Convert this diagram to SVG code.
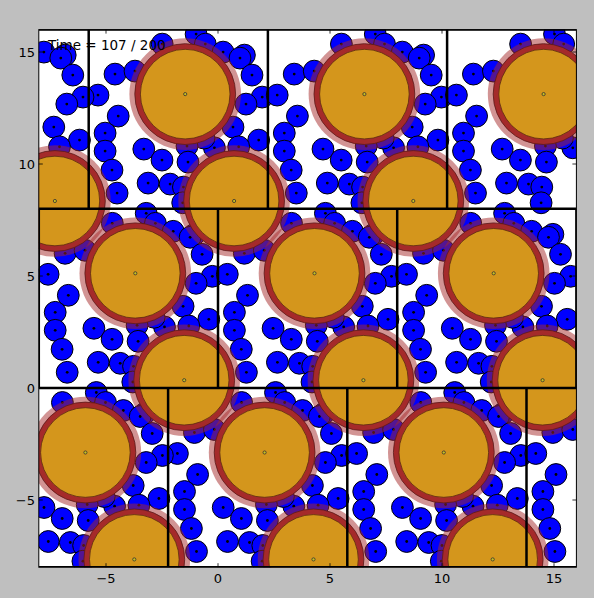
<svg xmlns="http://www.w3.org/2000/svg" xmlns:xlink="http://www.w3.org/1999/xlink" width="594" height="598" viewBox="0 0 594 598">
<style>
.b{fill:#0000ff;stroke:#000;stroke-width:1}
.d{fill:#000}
.h{fill:#a52a2a;fill-opacity:0.5}
.r{fill:#a52a2a;stroke:#5a1a1a;stroke-width:0.8}
.g{fill:#d4961c;stroke:#5a2a10;stroke-width:0.8}
.c{fill:#c8c020;stroke:#333;stroke-width:0.8}
.box{stroke:#000;stroke-width:2.5;fill:none}
.tk{stroke:#000;stroke-width:0.8}
.lb{font-family:"DejaVu Sans",sans-serif;font-size:13px;fill:#000}
</style>
<defs>
<clipPath id="ax"><rect x="38.8" y="29.6" width="537.6" height="537.6"/></clipPath>
<g id="c1">
<circle class="b" cx="9.3" cy="-113.7" r="10.9"/><circle class="d" cx="9.3" cy="-113.7" r="1.4"/>
<circle class="b" cx="26.3" cy="-134.7" r="10.9"/><circle class="d" cx="26.3" cy="-134.7" r="1.4"/>
<circle class="b" cx="46.3" cy="-137.7" r="10.9"/><circle class="d" cx="46.3" cy="-137.7" r="1.4"/>
<circle class="b" cx="29.5" cy="-92.7" r="10.9"/><circle class="d" cx="29.5" cy="-92.7" r="1.4"/>
<circle class="b" cx="16.4" cy="-75.7" r="10.9"/><circle class="d" cx="16.4" cy="-75.7" r="1.4"/>
<circle class="b" cx="16.4" cy="-57.7" r="10.9"/><circle class="d" cx="16.4" cy="-57.7" r="1.4"/>
<circle class="b" cx="23.3" cy="-38.7" r="10.9"/><circle class="d" cx="23.3" cy="-38.7" r="1.4"/>
<circle class="b" cx="28.4" cy="-15.7" r="10.9"/><circle class="d" cx="28.4" cy="-15.7" r="1.4"/>
</g>
<g id="c2">
<circle class="b" cx="73.5" cy="-164.7" r="10.9"/><circle class="d" cx="73.5" cy="-164.7" r="1.4"/>
<circle class="b" cx="55.1" cy="-59.7" r="10.9"/><circle class="d" cx="55.1" cy="-59.7" r="1.4"/>
<circle class="b" cx="73.3" cy="-48.7" r="10.9"/><circle class="d" cx="73.3" cy="-48.7" r="1.4"/>
<circle class="b" cx="59.4" cy="-25.7" r="10.9"/><circle class="d" cx="59.4" cy="-25.7" r="1.4"/>
<circle class="b" cx="81.4" cy="-24.7" r="10.9"/><circle class="d" cx="81.4" cy="-24.7" r="1.4"/>
<circle class="b" cx="107.4" cy="-174.7" r="10.9"/><circle class="d" cx="107.4" cy="-174.7" r="1.4"/>
<circle class="b" cx="116.6" cy="-164.7" r="10.9"/><circle class="d" cx="116.6" cy="-164.7" r="1.4"/>
<circle class="b" cx="125.7" cy="-61" r="10.9"/><circle class="d" cx="125.7" cy="-61" r="1.4"/>
<circle class="b" cx="115.3" cy="-70.7" r="10.9"/><circle class="d" cx="115.3" cy="-70.7" r="1.4"/>
<circle class="b" cx="98.3" cy="-62.7" r="10.9"/><circle class="d" cx="98.3" cy="-62.7" r="1.4"/>
<circle class="b" cx="99.3" cy="-46.7" r="10.9"/><circle class="d" cx="99.3" cy="-46.7" r="1.4"/>
<circle class="b" cx="94.7" cy="-21.7" r="10.9"/><circle class="d" cx="94.7" cy="-21.7" r="1.4"/>
<circle class="b" cx="94" cy="-6" r="10.9"/><circle class="d" cx="94" cy="-6" r="1.4"/>
</g>
<g id="c3">
<circle class="b" cx="134.4" cy="-156.7" r="10.9"/><circle class="d" cx="134.4" cy="-156.7" r="1.4"/>
<circle class="b" cx="155.7" cy="-153.7" r="10.9"/><circle class="d" cx="155.7" cy="-153.7" r="1.4"/>
<circle class="b" cx="151.3" cy="-150.7" r="10.9"/><circle class="d" cx="151.3" cy="-150.7" r="1.4"/>
<circle class="b" cx="163.3" cy="-133.7" r="10.9"/><circle class="d" cx="163.3" cy="-133.7" r="1.4"/>
<circle class="b" cx="173.5" cy="-111.7" r="10.9"/><circle class="d" cx="173.5" cy="-111.7" r="1.4"/>
<circle class="b" cx="157.3" cy="-104.7" r="10.9"/><circle class="d" cx="157.3" cy="-104.7" r="1.4"/>
<circle class="b" cx="144.3" cy="-81.7" r="10.9"/><circle class="d" cx="144.3" cy="-81.7" r="1.4"/>
<circle class="b" cx="170" cy="-68.7" r="10.9"/><circle class="d" cx="170" cy="-68.7" r="1.4"/>
<circle class="b" cx="150" cy="-62" r="10.9"/><circle class="d" cx="150" cy="-62" r="1.4"/>
</g>
<g id="bigA">
<circle class="h" cx="96.5" cy="-114.7" r="55.8"/>
<circle class="r" cx="96.5" cy="-114.7" r="50.4"/>
<circle class="g" cx="96.5" cy="-114.7" r="44.8"/>
<circle class="c" cx="96.5" cy="-114.7" r="1.6"/>
</g>
<g id="bigB">
<circle class="h" cx="145.4" cy="-7.8" r="55.8"/>
<circle class="r" cx="145.4" cy="-7.8" r="50.4"/>
<circle class="g" cx="145.4" cy="-7.8" r="44.8"/>
<circle class="c" cx="145.4" cy="-7.8" r="1.6"/>
</g>
</defs>
<rect width="594" height="598" fill="#bfbfbf"/>
<rect x="38.8" y="29.6" width="537.6" height="537.6" fill="#fff"/>
<g clip-path="url(#ax)">
<g id="small-particles">
<use xlink:href="#c1" x="88.7" y="208.8"/><use xlink:href="#c2" x="88.7" y="208.8"/><use xlink:href="#c3" x="88.7" y="208.8"/>
<use xlink:href="#c1" x="267.9" y="208.8"/><use xlink:href="#c2" x="267.9" y="208.8"/><use xlink:href="#c3" x="267.9" y="208.8"/>
<use xlink:href="#c1" x="447.1" y="208.8"/><use xlink:href="#c2" x="447.1" y="208.8"/>
<use xlink:href="#c3" x="-90.5" y="208.8"/>
<use xlink:href="#c1" x="38.8" y="388"/><use xlink:href="#c2" x="38.8" y="388"/><use xlink:href="#c3" x="38.8" y="388"/>
<use xlink:href="#c1" x="218" y="388"/><use xlink:href="#c2" x="218" y="388"/><use xlink:href="#c3" x="218" y="388"/>
<use xlink:href="#c1" x="397.2" y="388"/><use xlink:href="#c2" x="397.2" y="388"/><use xlink:href="#c3" x="397.2" y="388"/>
<use xlink:href="#c1" x="168.1" y="567.2"/><use xlink:href="#c2" x="168.1" y="567.2"/><use xlink:href="#c3" x="168.1" y="567.2"/>
<use xlink:href="#c1" x="347.3" y="567.2"/><use xlink:href="#c2" x="347.3" y="567.2"/><use xlink:href="#c3" x="347.3" y="567.2"/>
<use xlink:href="#c2" x="-11.1" y="567.2"/><use xlink:href="#c3" x="-11.1" y="567.2"/>
<use xlink:href="#c1" x="526.5" y="567.2"/>
</g>
<g id="large-particles">
<use xlink:href="#bigA" x="88.7" y="208.8"/><use xlink:href="#bigB" x="88.7" y="208.8"/>
<use xlink:href="#bigA" x="267.9" y="208.8"/><use xlink:href="#bigB" x="267.9" y="208.8"/>
<use xlink:href="#bigA" x="447.1" y="208.8"/><use xlink:href="#bigB" x="-90.5" y="208.8"/>
<use xlink:href="#bigA" x="38.8" y="388"/><use xlink:href="#bigB" x="38.8" y="388"/>
<use xlink:href="#bigA" x="218" y="388"/><use xlink:href="#bigB" x="218" y="388"/>
<use xlink:href="#bigA" x="397.2" y="388"/><use xlink:href="#bigB" x="397.2" y="388"/>
<use xlink:href="#bigA" x="168.1" y="567.2"/><use xlink:href="#bigB" x="168.1" y="567.2"/>
<use xlink:href="#bigA" x="347.3" y="567.2"/><use xlink:href="#bigB" x="347.3" y="567.2"/>
<use xlink:href="#bigA" x="-11.1" y="567.2"/><use xlink:href="#bigB" x="-11.1" y="567.2"/>
</g>
<g id="boxes">
<path class="box" d="M38.8 29.6H576.4M38.8 208.8H576.4M38.8 388H576.4M38.8 567.2H576.4"/>
<path class="box" d="M88.7 29.6V208.8M267.9 29.6V208.8M447.1 29.6V208.8"/>
<path class="box" d="M38.8 208.8V388M218 208.8V388M397.2 208.8V388M576.4 208.8V388"/>
<path class="box" d="M168.1 388V567.2M347.3 388V567.2M526.5 388V567.2"/>
</g>
</g>
<rect x="38.8" y="29.6" width="537.6" height="537.6" fill="none" stroke="#000" stroke-width="1"/>
<g id="ticks">
<path class="tk" d="M106 567.2v-4M218 567.2v-4M330 567.2v-4M442 567.2v-4M554 567.2v-4M106 29.6v4M218 29.6v4M330 29.6v4M442 29.6v4M554 29.6v4"/>
<path class="tk" d="M38.8 500h4M38.8 388h4M38.8 276h4M38.8 164h4M38.8 52h4M576.4 500h-4M576.4 388h-4M576.4 276h-4M576.4 164h-4M576.4 52h-4"/>
</g>
<g id="tick-labels" class="lb">
<text x="106" y="583" text-anchor="middle">−5</text>
<text x="218" y="583" text-anchor="middle">0</text>
<text x="330" y="583" text-anchor="middle">5</text>
<text x="442" y="583" text-anchor="middle">10</text>
<text x="554" y="583" text-anchor="middle">15</text>
<text x="35" y="504.5" text-anchor="end">−5</text>
<text x="35" y="392.5" text-anchor="end">0</text>
<text x="35" y="280.5" text-anchor="end">5</text>
<text x="35" y="168.5" text-anchor="end">10</text>
<text x="35" y="56.5" text-anchor="end">15</text>
</g>
<text id="title" x="48" y="50" style="font-family:'DejaVu Sans',sans-serif;font-size:13.5px;fill:#000">Time = 107 / 200</text>
</svg>
